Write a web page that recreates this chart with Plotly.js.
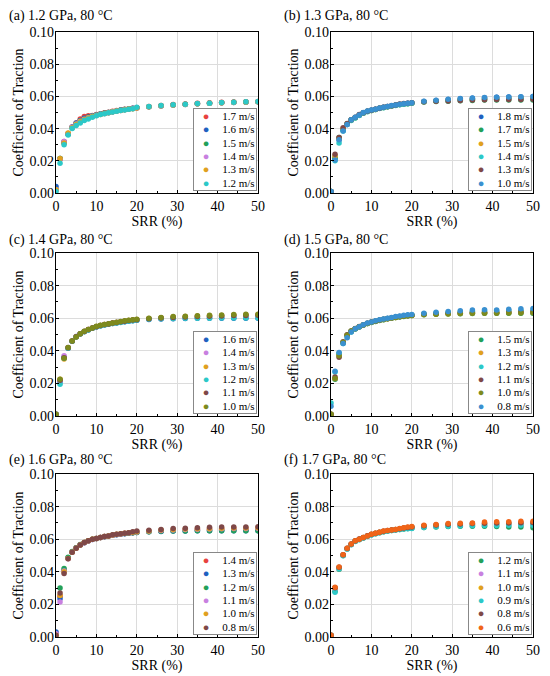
<!DOCTYPE html>
<html>
<head>
<meta charset="utf-8">
<script src="https://cdn.plot.ly/plotly-3.0.1.min.js"></script>
<style>html,body{margin:0;padding:0;background:#fff;}#chart{width:550px;height:676px;}</style>
</head>
<body>
<div id="chart"></div>
<script>
// ---------- DATA ----------
const srr = [0,1,2,3,4,5,6,7,8,9,10,11,12,13,14,15,16,17,18,19,20,23,26,29,32,35,38,41,44,47,50];

const panelTitles = ["(a) 1.2 GPa, 80 °C","(b) 1.3 GPa, 80 °C","(c) 1.4 GPa, 80 °C","(d) 1.5 GPa, 80 °C","(e) 1.6 GPa, 80 °C","(f) 1.7 GPa, 80 °C"];

// (a) 1.2 GPa
const aSpeeds = ["1.7 m/s","1.6 m/s","1.5 m/s","1.4 m/s","1.3 m/s","1.2 m/s"];
const a17 = [0.002,0.021,0.032,0.037,0.041,0.0435,0.046,0.0475,0.048,0.0482,0.0487,0.0492,0.0498,0.0502,0.0507,0.0512,0.0516,0.052,0.0523,0.0527,0.053,0.0537,0.0543,0.0549,0.0553,0.0557,0.056,0.0563,0.0565,0.0567,0.0569];
const a16 = [0.004,0.0215,0.0315,0.0365,0.041,0.0435,0.045,0.0465,0.0472,0.048,0.0485,0.049,0.0496,0.05,0.0505,0.051,0.0515,0.0519,0.0522,0.0526,0.053,0.0536,0.0542,0.0547,0.0551,0.0555,0.0558,0.0561,0.0563,0.0565,0.0567];
const a15 = [0.002,0.0215,0.031,0.0365,0.0405,0.043,0.0448,0.046,0.047,0.0478,0.0485,0.049,0.0495,0.05,0.0505,0.051,0.0514,0.0518,0.0522,0.0525,0.0529,0.0535,0.0541,0.0546,0.055,0.0554,0.0557,0.056,0.0562,0.0564,0.0566];
const a14 = [0.002,0.021,0.032,0.037,0.0408,0.0428,0.0445,0.0458,0.0468,0.0476,0.0483,0.0489,0.0494,0.0499,0.0504,0.0509,0.0513,0.0517,0.0521,0.0525,0.0528,0.0535,0.0541,0.0546,0.055,0.0554,0.0557,0.056,0.0562,0.0565,0.0567];
const a13 = [0.002,0.0215,0.031,0.0372,0.0405,0.0425,0.0442,0.0455,0.0466,0.0475,0.0482,0.0488,0.0494,0.0499,0.0504,0.0509,0.0513,0.0517,0.0521,0.0524,0.0528,0.0536,0.0542,0.0547,0.0551,0.0555,0.0558,0.0561,0.0563,0.0565,0.0567];
const a12 = [0.001,0.0185,0.030,0.036,0.040,0.042,0.0435,0.045,0.046,0.047,0.048,0.0487,0.0493,0.0498,0.0503,0.0508,0.0512,0.0516,0.052,0.0524,0.0532,0.0538,0.0543,0.0548,0.0552,0.0556,0.0558,0.0562,0.0564,0.0566,0.0568];

// (b) 1.3 GPa
const bSpeeds = ["1.8 m/s","1.7 m/s","1.5 m/s","1.4 m/s","1.3 m/s","1.0 m/s"];
const b18 = [0.001,0.021,0.033,0.039,0.0425,0.0453,0.0469,0.0484,0.0498,0.0508,0.0514,0.052,0.0527,0.0532,0.0537,0.0542,0.0546,0.055,0.0554,0.0557,0.056,0.0569,0.0575,0.0581,0.0585,0.0589,0.0592,0.0594,0.0596,0.0597,0.0599];
const b17 = [0.001,0.022,0.0345,0.0395,0.043,0.0455,0.0468,0.0483,0.0497,0.0507,0.0513,0.0519,0.0526,0.0531,0.0536,0.0541,0.0545,0.0549,0.0552,0.0555,0.0558,0.0565,0.0568,0.057,0.0573,0.0575,0.0577,0.0578,0.0578,0.0578,0.0578];
const b15 = [0.001,0.023,0.034,0.040,0.0428,0.0452,0.0468,0.0483,0.0496,0.0506,0.0513,0.0519,0.0526,0.0531,0.0536,0.0541,0.0545,0.0549,0.0553,0.0556,0.0559,0.0567,0.0572,0.0576,0.058,0.0583,0.0585,0.0587,0.0589,0.059,0.0591];
const b14 = [0.001,0.020,0.031,0.0385,0.0425,0.045,0.0466,0.0481,0.0495,0.0505,0.0512,0.0518,0.0525,0.053,0.0535,0.054,0.0544,0.0548,0.0552,0.0555,0.0558,0.0566,0.0571,0.0575,0.0579,0.0582,0.0584,0.0586,0.0588,0.0589,0.059];
const b13 = [0.001,0.024,0.0345,0.0405,0.0432,0.0455,0.047,0.0487,0.0498,0.0508,0.0514,0.052,0.0527,0.0532,0.0537,0.0542,0.0547,0.0553,0.0556,0.0558,0.056,0.0567,0.057,0.0572,0.0575,0.0577,0.0579,0.058,0.0581,0.0581,0.0582];
const b10 = [0.001,0.0205,0.033,0.0385,0.0425,0.0455,0.047,0.0485,0.050,0.051,0.0515,0.052,0.0528,0.0533,0.0538,0.0543,0.0547,0.0551,0.0555,0.0558,0.0561,0.057,0.0576,0.0582,0.0587,0.059,0.0593,0.0595,0.0597,0.0598,0.060];

// (c) 1.4 GPa
const cSpeeds = ["1.6 m/s","1.4 m/s","1.3 m/s","1.2 m/s","1.1 m/s","1.0 m/s"];
const c16 = [0.001,0.021,0.036,0.0415,0.0458,0.0488,0.0505,0.0518,0.0528,0.0538,0.0547,0.0553,0.0558,0.0563,0.0567,0.0571,0.0575,0.0578,0.0582,0.0585,0.0588,0.0592,0.0595,0.0597,0.0598,0.0599,0.060,0.060,0.060,0.060,0.060];
const c14 = [0.001,0.0215,0.037,0.042,0.046,0.0487,0.0505,0.0519,0.053,0.054,0.0548,0.0554,0.056,0.0565,0.0569,0.0573,0.0577,0.058,0.0584,0.0587,0.059,0.0596,0.060,0.0603,0.0605,0.0607,0.0609,0.061,0.0611,0.0612,0.0613];
const c13 = [0.001,0.0225,0.035,0.0418,0.046,0.0486,0.0505,0.0519,0.053,0.054,0.0549,0.0555,0.0561,0.0565,0.057,0.0574,0.0578,0.0582,0.0586,0.0589,0.0592,0.0598,0.0603,0.0607,0.061,0.0613,0.0615,0.0617,0.0619,0.0621,0.0622];
const c12 = [0.001,0.0195,0.0355,0.0415,0.0458,0.0484,0.0503,0.0517,0.0528,0.0538,0.0546,0.0552,0.0558,0.0563,0.0567,0.0571,0.0574,0.0578,0.0582,0.0585,0.0588,0.0593,0.0596,0.0598,0.0599,0.060,0.060,0.0601,0.0601,0.0601,0.0601];
const c11 = [0.001,0.022,0.0358,0.0418,0.046,0.0486,0.0504,0.0519,0.053,0.054,0.0548,0.0555,0.0561,0.0565,0.057,0.0574,0.0578,0.0582,0.0586,0.0589,0.0591,0.0597,0.0601,0.0605,0.0608,0.061,0.0612,0.0614,0.0616,0.0617,0.0618];
const c10 = [0.001,0.0225,0.0355,0.042,0.046,0.0485,0.0505,0.052,0.053,0.054,0.055,0.0556,0.0562,0.0566,0.057,0.0575,0.058,0.0584,0.0588,0.0591,0.0594,0.060,0.0605,0.061,0.0612,0.0615,0.0618,0.062,0.0622,0.0624,0.0625];

// (d) 1.5 GPa
const dSpeeds = ["1.5 m/s","1.3 m/s","1.2 m/s","1.1 m/s","1.0 m/s","0.8 m/s"];
const d15 = [0.001,0.0225,0.038,0.045,0.0495,0.052,0.0535,0.0547,0.0558,0.0567,0.0574,0.058,0.0586,0.0591,0.0596,0.060,0.0604,0.0608,0.0611,0.0614,0.0616,0.0621,0.0624,0.0626,0.0628,0.0629,0.063,0.063,0.063,0.063,0.063];
const d13 = [0.001,0.023,0.0375,0.045,0.0495,0.052,0.0536,0.0548,0.0559,0.0568,0.0575,0.0581,0.0587,0.0592,0.0597,0.0601,0.0605,0.0609,0.0612,0.0615,0.0617,0.0623,0.0626,0.0628,0.063,0.0632,0.0633,0.0634,0.0635,0.0636,0.0637];
const d12 = [0.008,0.027,0.0385,0.0445,0.0485,0.0515,0.0533,0.0546,0.0558,0.0568,0.0575,0.0582,0.0588,0.0593,0.0598,0.0603,0.0607,0.0611,0.0615,0.0618,0.062,0.0627,0.0632,0.0636,0.064,0.0643,0.0645,0.0645,0.0647,0.0649,0.065];
const d11 = [0.001,0.024,0.036,0.0455,0.0498,0.0522,0.0537,0.0549,0.056,0.0569,0.0576,0.0582,0.0588,0.0593,0.0598,0.0602,0.0606,0.061,0.0613,0.0616,0.0618,0.0624,0.0628,0.0631,0.0633,0.0635,0.0636,0.0637,0.0638,0.0639,0.064];
const d10 = [0.001,0.023,0.037,0.0452,0.0496,0.0521,0.0536,0.0548,0.0559,0.0568,0.0575,0.0581,0.0587,0.0592,0.0597,0.0601,0.0605,0.0609,0.0612,0.0615,0.0617,0.0622,0.0625,0.0627,0.0629,0.063,0.0631,0.0631,0.0632,0.0632,0.0633];
const d08 = [0.006,0.0275,0.039,0.0445,0.048,0.0515,0.0535,0.0548,0.056,0.057,0.0577,0.0584,0.059,0.0595,0.060,0.0605,0.061,0.0614,0.0618,0.0621,0.0623,0.063,0.0637,0.0641,0.0646,0.065,0.0652,0.065,0.0655,0.0658,0.066];

// (e) 1.6 GPa
const eSpeeds = ["1.4 m/s","1.3 m/s","1.2 m/s","1.1 m/s","1.0 m/s","0.8 m/s"];
const e14 = [0.002,0.025,0.041,0.0485,0.0522,0.0547,0.0566,0.0579,0.059,0.0599,0.0605,0.061,0.0616,0.062,0.0625,0.0629,0.0632,0.0635,0.0638,0.064,0.0642,0.0648,0.0652,0.0654,0.0656,0.0658,0.0659,0.066,0.066,0.0661,0.0662];
const e13 = [0.003,0.0235,0.0405,0.0485,0.052,0.0546,0.0565,0.0578,0.0589,0.0598,0.0604,0.061,0.0615,0.062,0.0624,0.0628,0.0631,0.0634,0.0637,0.0639,0.0641,0.0645,0.0648,0.065,0.0651,0.0652,0.0652,0.0652,0.0652,0.0652,0.0652];
const e12 = [0.001,0.030,0.042,0.049,0.0525,0.0548,0.0568,0.058,0.059,0.0599,0.0605,0.061,0.0616,0.062,0.0625,0.0629,0.0632,0.0635,0.0638,0.064,0.0641,0.0646,0.0649,0.065,0.0651,0.0652,0.0652,0.0652,0.0652,0.0652,0.0652];
const e11 = [0.002,0.0215,0.0405,0.048,0.052,0.0545,0.0565,0.0578,0.0589,0.0598,0.0604,0.061,0.0616,0.062,0.0625,0.0629,0.0632,0.0636,0.0639,0.0642,0.0644,0.065,0.0654,0.0657,0.0659,0.0661,0.0663,0.0664,0.0665,0.0666,0.0667];
const e10 = [0.001,0.0255,0.040,0.0482,0.052,0.0545,0.0565,0.0579,0.059,0.0599,0.0605,0.061,0.0616,0.062,0.0626,0.063,0.0633,0.0636,0.0639,0.0642,0.0645,0.0651,0.0656,0.0659,0.0662,0.0664,0.0666,0.0667,0.0668,0.0669,0.067];
const e08 = [0.001,0.027,0.039,0.048,0.052,0.0545,0.0565,0.058,0.059,0.060,0.0605,0.061,0.0617,0.062,0.0627,0.063,0.0633,0.0637,0.064,0.0645,0.065,0.0655,0.066,0.0665,0.0667,0.067,0.0674,0.0675,0.0675,0.0675,0.0676];

// (f) 1.7 GPa
const fSpeeds = ["1.2 m/s","1.1 m/s","1.0 m/s","0.9 m/s","0.8 m/s","0.6 m/s"];
const f12 = [0.001,0.028,0.0415,0.050,0.054,0.0567,0.0587,0.0598,0.0608,0.0618,0.0627,0.0634,0.064,0.0646,0.065,0.0654,0.0657,0.066,0.0663,0.0665,0.0667,0.0672,0.0675,0.0678,0.068,0.068,0.068,0.0678,0.0675,0.0675,0.067];
const f11 = [0.001,0.0295,0.042,0.0502,0.0542,0.0568,0.0588,0.0599,0.0609,0.0619,0.0628,0.0635,0.0641,0.0647,0.0651,0.0655,0.0658,0.0662,0.0665,0.0668,0.067,0.0676,0.068,0.0684,0.0686,0.0688,0.0689,0.069,0.069,0.0691,0.0691];
const f10 = [0.001,0.030,0.0425,0.0503,0.0543,0.0569,0.0589,0.060,0.061,0.062,0.0629,0.0636,0.0642,0.0648,0.0652,0.0656,0.0659,0.0663,0.0667,0.067,0.0673,0.0679,0.0684,0.0688,0.069,0.0692,0.0694,0.0695,0.0696,0.0697,0.0698];
const f09 = [0.001,0.0275,0.0418,0.0498,0.054,0.0566,0.0586,0.0597,0.0607,0.0617,0.0626,0.0633,0.0639,0.0645,0.0649,0.0653,0.0656,0.0659,0.0662,0.0664,0.0666,0.0672,0.0676,0.0679,0.0681,0.0683,0.0684,0.0684,0.0685,0.0685,0.0685];
const f08 = [0.001,0.0302,0.0428,0.0504,0.0544,0.057,0.059,0.0601,0.0611,0.0621,0.063,0.0637,0.0643,0.0649,0.0653,0.0657,0.066,0.0664,0.0668,0.0672,0.0675,0.0682,0.0687,0.0692,0.0694,0.0696,0.0698,0.070,0.070,0.0701,0.0702];
const f06 = [0.001,0.0305,0.043,0.0505,0.0545,0.057,0.059,0.060,0.061,0.062,0.063,0.0637,0.0643,0.065,0.0653,0.0657,0.066,0.0665,0.067,0.0675,0.0678,0.0685,0.069,0.0697,0.0698,0.070,0.0705,0.0707,0.0707,0.071,0.071];

// ---------- STYLE ----------
const C = {red:'#e8423f', blue:'#1f60c0', green:'#23a05a', violet:'#c880e0', gold:'#e0a020',
           cyan:'#2cc8c8', brown:'#7f4848', olive:'#7d8a1e', steel:'#3a90d0', orange:'#f06418'};

const panels = [
  {speeds:aSpeeds, ys:[a17,a16,a15,a14,a13,a12], colors:[C.red,C.blue,C.green,C.violet,C.gold,C.cyan]},
  {speeds:bSpeeds, ys:[b18,b17,b15,b14,b13,b10], colors:[C.blue,C.green,C.gold,C.cyan,C.brown,C.steel]},
  {speeds:cSpeeds, ys:[c16,c14,c13,c12,c11,c10], colors:[C.blue,C.violet,C.gold,C.cyan,C.brown,C.olive]},
  {speeds:dSpeeds, ys:[d15,d13,d12,d11,d10,d08], colors:[C.green,C.gold,C.cyan,C.brown,C.olive,C.steel]},
  {speeds:eSpeeds, ys:[e14,e13,e12,e11,e10,e08], colors:[C.red,C.blue,C.green,C.violet,C.gold,C.brown]},
  {speeds:fSpeeds, ys:[f12,f11,f10,f09,f08,f06], colors:[C.green,C.violet,C.gold,C.cyan,C.brown,C.orange]}
];

const W = 550, H = 676;
const FONT = "'Liberation Serif'";
// pixel geometry of plot areas [left, right, top, bottom]
const colX = [[56,258],[331,533]];
const rowY = [[32,193],[253,416],[474,637]];
const titleY = [16,240,460];
const titleX = [7,282];

const traces = [];
const layout = {
  width: W, height: H,
  margin: {l:0, r:0, t:0, b:0},
  paper_bgcolor:'#fff', plot_bgcolor:'#fff',
  showlegend:false,
  font:{family:FONT, size:14, color:'#000'},
  annotations:[], shapes:[]
};

panels.forEach((p, i) => {
  const col = i % 2, row = Math.floor(i/2);
  const n = i === 0 ? '' : String(i+1);
  const xa = 'xaxis' + n, ya = 'yaxis' + n;
  const [l, r] = colX[col], [t, b] = rowY[row];
  p.ys.forEach((y, k) => {
    traces.push({
      type:'scatter', mode:'markers', x: srr, y: y, name: p.speeds[k],
      xaxis:'x'+n, yaxis:'y'+n,
      marker:{size:5.5, color:p.colors[k]}
    });
  });
  const common = {
    showline:true, mirror:true, linecolor:'#000', linewidth:1.3,
    showgrid:true, gridcolor:'#dcdcdc', gridwidth:1,
    zeroline:false, ticks:'inside', ticklen:3, tickcolor:'#000', tickwidth:1,
    tickfont:{family:FONT, size:14, color:'#000'}
  };
  layout[xa] = Object.assign({}, common, {
    domain:[l/W, r/W], anchor:'y'+n, range:[0,50], dtick:10, tick0:0,
    minor:{ticks:'inside', ticklen:2, dtick:5, tickcolor:'#000', showgrid:false},
    title:{text:'SRR (%)', font:{family:FONT, size:14, color:'#000'}, standoff:1}
  });
  layout[ya] = Object.assign({}, common, {
    domain:[1-b/H, 1-t/H], anchor:'x'+n, range:[0,0.1], dtick:0.02, tick0:0, tickformat:'.2f',
    ticklabelstandoff:-2,
    minor:{ticks:'inside', ticklen:2, dtick:0.01, tickcolor:'#000', showgrid:false},
    title:{text:'Coefficient of Traction', font:{family:FONT, size:14, color:'#000'}, standoff:2}
  });
  // panel title
  layout.annotations.push({
    text: panelTitles[i], xref:'paper', yref:'paper',
    x: titleX[col]/W, y: 1 - titleY[row]/H, xanchor:'left', yanchor:'middle',
    showarrow:false, font:{family:FONT, size:14, color:'#000'}
  });
  // legend box (as annotation)
  const NB = '\u00A0';
  const lines = p.speeds.map((s, k) =>
    NB+NB+NB+'<span style="color:'+p.colors[k]+';font-size:11px">\u25CF</span>'+NB+NB+NB+NB+NB+
    '<span style="font-size:11px">'+s+'</span>');
  layout.annotations.push({
    text: lines.join('<br>'), xref:'paper', yref:'paper',
    x: (r-1)/W, y: 1-(b-2)/H, xanchor:'right', yanchor:'bottom', align:'left',
    showarrow:false, bgcolor:'#fff', bordercolor:'#888', borderwidth:1, borderpad:1,
    font:{family:FONT, size:10.25, color:'#000'}
  });
});

Plotly.newPlot('chart', traces, layout, {staticPlot:true, displayModeBar:false});
</script>
</body>
</html>
